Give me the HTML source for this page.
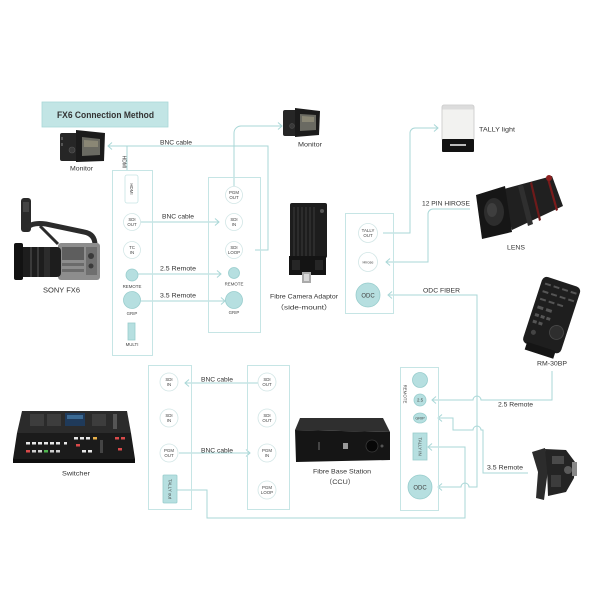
<!DOCTYPE html>
<html><head><meta charset="utf-8">
<style>
html,body{margin:0;padding:0;background:#fff;}
svg{display:block;}
text{font-family:"Liberation Sans","Noto Sans CJK SC",sans-serif;fill:#333;}
.c{font-size:4.4px;text-anchor:middle;fill:#444;}
.l{font-size:6.6px;}
.ln{fill:none;stroke:#a9d7d7;stroke-width:1;}
.pn{fill:none;stroke:#c6e5e5;stroke-width:1;}
.ci{fill:#fff;stroke:#d2e6e6;stroke-width:0.8;}
.cf{fill:#b6dfe0;stroke:#98cdcd;stroke-width:0.8;}
</style></head><body>
<svg width="600" height="600" viewBox="0 0 600 600" xmlns="http://www.w3.org/2000/svg">
<rect width="600" height="600" fill="#fff"/>

<!-- Title -->
<rect x="42" y="102" width="126" height="25" fill="#c2e5e5" stroke="#a9d8d8" stroke-width="0.8"/>
<text x="57" y="118" font-size="9.5" font-weight="bold" textLength="97" lengthAdjust="spacingAndGlyphs" fill="#2a2a2a">FX6 Connection Method</text>

<!-- ===== Connector lines ===== -->
<path class="ln" d="M255 250 H268 V146 H108"/>
<polyline class="ln" points="112,142.5 108,146 112,149.5"/>
<path class="ln" d="M127 146 V170"/>
<path class="ln" d="M234 186 V133 A7 7 0 0 1 241 126 H282"/>
<polyline class="ln" points="278,122.5 282,126 278,129.5"/>
<path class="ln" d="M141 222 H219"/>
<polyline class="ln" points="215,218.5 219,222 215,225.5"/>
<path class="ln" d="M138 274 H221"/>
<polyline class="ln" points="217,270.5 221,274 217,277.5"/>
<path class="ln" d="M141 301 H225"/>
<polyline class="ln" points="221,297.5 225,301 221,304.5"/>

<path class="ln" d="M383 233 H410 V133 A5 5 0 0 1 415 128 H438"/>
<polyline class="ln" points="434,124.5 438,128 434,131.5"/>
<path class="ln" d="M386 262 H428 V214 A5 5 0 0 1 433 209 H470"/>
<polyline class="ln" points="390,258.5 386,262 390,265.5"/>
<path class="ln" d="M388 295 H477 V487 H469 A4 4 0 0 0 461 487 H438"/>
<polyline class="ln" points="392,291.5 388,295 392,298.5"/>
<polyline class="ln" points="442,483.5 438,487 442,490.5"/>
<path class="ln" d="M552 371 V400 H481 A4 4 0 0 0 473 400 H432"/>
<polyline class="ln" points="436,396.5 432,400 436,403.5"/>
<path class="ln" d="M438 418 H453 V430 H473 A4 4 0 0 1 481 430 H483 V473 H528"/>
<polyline class="ln" points="442,414.5 438,418 442,421.5"/>
<path class="ln" d="M428 447 H465 V518 H207 V490 H177"/>
<polyline class="ln" points="432,443.5 428,447 432,450.5"/>
<path class="ln" d="M258 383 H185"/>
<polyline class="ln" points="189,379.5 185,383 189,386.5"/>
<path class="ln" d="M179 453 H250"/>
<polyline class="ln" points="246,449.5 250,453 246,456.5"/>

<!-- ===== Panels ===== -->
<rect class="pn" x="112.5" y="170.5" width="40" height="185"/>
<rect x="125" y="175" width="13" height="28" rx="2" fill="#fff" stroke="#c6e5e5" stroke-width="0.8"/>
<text class="c" transform="translate(131.5,189) rotate(90)" dy="1.5">HDMI</text>
<circle class="ci" cx="132" cy="222" r="8.5"/>
<text class="c" x="132" y="221">SDI</text><text class="c" x="132" y="226">OUT</text>
<circle class="ci" cx="132" cy="250" r="8.5"/>
<text class="c" x="132" y="249">TC</text><text class="c" x="132" y="254">IN</text>
<circle class="cf" cx="132" cy="275" r="6"/>
<text class="c" x="132" y="288">REMOTE</text>
<circle class="cf" cx="132" cy="300" r="8.5"/>
<text class="c" x="132" y="315">GRIP</text>
<rect class="cf" x="128" y="323" width="7" height="17"/>
<text class="c" x="132" y="346">MULTI</text>
<text class="c" transform="translate(124,162) rotate(90)" dy="1.5" style="font-size:5px">HDMI</text>

<rect class="pn" x="208.5" y="177.5" width="52" height="155"/>
<circle class="ci" cx="234" cy="195" r="8.5"/>
<text class="c" x="234" y="194">PGM</text><text class="c" x="234" y="199">OUT</text>
<circle class="ci" cx="234" cy="222" r="8.5"/>
<text class="c" x="234" y="221">SDI</text><text class="c" x="234" y="226">IN</text>
<circle class="ci" cx="234" cy="250" r="8.5"/>
<text class="c" x="234" y="249">SDI</text><text class="c" x="234" y="254">LOOP</text>
<circle class="cf" cx="234" cy="273" r="5.5"/>
<text class="c" x="234" y="285.5">REMOTE</text>
<circle class="cf" cx="234" cy="300" r="8.5"/>
<text class="c" x="234" y="314">GRIP</text>

<rect class="pn" x="345.5" y="213.5" width="48" height="100"/>
<circle class="ci" cx="368" cy="233" r="9.5"/>
<text class="c" x="368" y="232">TALLY</text><text class="c" x="368" y="237">OUT</text>
<circle class="ci" cx="368" cy="262" r="9.5"/>
<text class="c" x="368" y="263.5" style="font-size:3.8px">Hirose</text>
<circle class="cf" cx="368" cy="295" r="12"/>
<text class="c" x="368" y="297.5" style="font-size:6px">ODC</text>

<rect class="pn" x="400.5" y="367.5" width="38" height="143"/>
<circle class="cf" cx="420" cy="380" r="7.5"/>
<text class="c" transform="translate(405,394) rotate(90)" dy="1.5">REMOTE</text>
<circle class="cf" cx="420" cy="400" r="6"/>
<text class="c" x="420" y="401.5">2.5</text>
<ellipse class="cf" cx="420" cy="418" rx="6.5" ry="5"/>
<text class="c" x="420" y="419.5" style="font-size:3.8px">GRIP</text>
<rect class="cf" x="413" y="433" width="14" height="27"/>
<text class="c" transform="translate(420,446.5) rotate(90)" dy="1.5">TALLY IN</text>
<circle class="cf" cx="420" cy="487" r="12"/>
<text class="c" x="420" y="489.5" style="font-size:6px">ODC</text>

<rect class="pn" x="148.5" y="365.5" width="43" height="144"/>
<circle class="ci" cx="169" cy="382" r="9"/>
<text class="c" x="169" y="381">SDI</text><text class="c" x="169" y="386">IN</text>
<circle class="ci" cx="169" cy="418" r="9"/>
<text class="c" x="169" y="417">SDI</text><text class="c" x="169" y="422">IN</text>
<circle class="ci" cx="169" cy="453" r="9"/>
<text class="c" x="169" y="452">PGM</text><text class="c" x="169" y="457">OUT</text>
<rect class="cf" x="163" y="475" width="14" height="28" rx="1"/>
<text class="c" transform="translate(170,489) rotate(90)" dy="1.5">TALLY out</text>

<rect class="pn" x="247.5" y="365.5" width="42" height="144"/>
<circle class="ci" cx="267" cy="382" r="9"/>
<text class="c" x="267" y="381">SDI</text><text class="c" x="267" y="386">OUT</text>
<circle class="ci" cx="267" cy="418" r="9"/>
<text class="c" x="267" y="417">SDI</text><text class="c" x="267" y="422">OUT</text>
<circle class="ci" cx="267" cy="453" r="9"/>
<text class="c" x="267" y="452">PGM</text><text class="c" x="267" y="457">IN</text>
<circle class="ci" cx="267" cy="490" r="9"/>
<text class="c" x="267" y="489">PGM</text><text class="c" x="267" y="494">LOOP</text>

<!-- ===== Labels ===== -->
<text class="l" x="70" y="170.3" textLength="23" lengthAdjust="spacingAndGlyphs">Monitor</text>
<text class="l" x="160" y="144.3" textLength="32" lengthAdjust="spacingAndGlyphs">BNC cable</text>
<text class="l" x="298" y="146.3" textLength="24" lengthAdjust="spacingAndGlyphs">Monitor</text>
<text class="l" x="43" y="292.5" textLength="37" lengthAdjust="spacingAndGlyphs" style="font-size:7px">SONY FX6</text>
<text class="l" x="162" y="218.3" textLength="32" lengthAdjust="spacingAndGlyphs">BNC cable</text>
<text class="l" x="160" y="270.3" textLength="36" lengthAdjust="spacingAndGlyphs">2.5 Remote</text>
<text class="l" x="160" y="297.3" textLength="36" lengthAdjust="spacingAndGlyphs">3.5 Remote</text>
<text class="l" x="270" y="298.3" textLength="68" lengthAdjust="spacingAndGlyphs">Fibre Camera Adaptor</text>
<text class="l" x="276" y="309.3" textLength="56" lengthAdjust="spacingAndGlyphs">（side-mount）</text>
<text class="l" x="479" y="131.3" textLength="36" lengthAdjust="spacingAndGlyphs">TALLY light</text>
<text class="l" x="422" y="205.3" textLength="48" lengthAdjust="spacingAndGlyphs">12 PIN HIROSE</text>
<text class="l" x="507" y="249.3" textLength="18" lengthAdjust="spacingAndGlyphs">LENS</text>
<text class="l" x="423" y="292.3" textLength="37" lengthAdjust="spacingAndGlyphs">ODC FIBER</text>
<text class="l" x="537" y="365.3" textLength="30" lengthAdjust="spacingAndGlyphs">RM-30BP</text>
<text class="l" x="498" y="406.3" textLength="35" lengthAdjust="spacingAndGlyphs">2.5 Remote</text>
<text class="l" x="487" y="469.3" textLength="36" lengthAdjust="spacingAndGlyphs">3.5 Remote</text>
<text class="l" x="62" y="475.3" textLength="28" lengthAdjust="spacingAndGlyphs">Switcher</text>
<text class="l" x="313" y="473.3" textLength="58" lengthAdjust="spacingAndGlyphs">Fibre Base Station</text>
<text class="l" x="325" y="484" textLength="30" lengthAdjust="spacingAndGlyphs">（CCU）</text>
<text class="l" x="201" y="381.3" textLength="32" lengthAdjust="spacingAndGlyphs">BNC cable</text>
<text class="l" x="201" y="452.3" textLength="32" lengthAdjust="spacingAndGlyphs">BNC cable</text>

<!-- ===== Devices ===== -->
<g>
<rect x="60" y="133" width="20" height="28" rx="2" fill="#262626"/>
<polygon points="76,130 105,133 104,161 76,162" fill="#1b1b1b"/>
<polygon points="82,137 100,139 100,155 82,156" fill="#6a6a62"/>
<polygon points="84,140 98,141 98,147 84,147" fill="#8a8775"/>
<circle cx="72" cy="150" r="3" fill="#3a3a3a" stroke="#555" stroke-width="0.6"/>
<rect x="61" y="137" width="2" height="3" fill="#555"/><rect x="61" y="143" width="2" height="3" fill="#555"/>
</g>
<g>
<rect x="283" y="110" width="16" height="26" rx="2" fill="#262626"/>
<polygon points="295,108 320,111 319,135 295,137" fill="#1b1b1b"/>
<polygon points="300,114 316,115 316,130 300,131" fill="#6a6a62"/>
<polygon points="302,116 314,117 314,122 302,122" fill="#8a8775"/>
<circle cx="292" cy="126" r="2.5" fill="#3a3a3a" stroke="#555" stroke-width="0.5"/>
</g>

<g>
<rect x="21" y="198" width="10" height="34" rx="3" fill="#2a2a2a"/>
<rect x="23" y="202" width="6" height="10" fill="#444"/>
<path d="M27 228 Q32 222 46 224 L84 232 Q95 234 95 245" stroke="#2b2b2b" stroke-width="5" fill="none"/>
<path d="M40 226 L58 244" stroke="#2b2b2b" stroke-width="3" fill="none"/>
<rect x="58" y="243" width="42" height="37" rx="3" fill="#8d8d8d"/>
<rect x="62" y="247" width="22" height="13" fill="#5e5e5e"/>
<rect x="86" y="247" width="11" height="28" fill="#6f6f6f"/>
<circle cx="91" cy="256" r="3" fill="#3a3a3a"/>
<circle cx="91" cy="266" r="2.5" fill="#3a3a3a"/>
<rect x="62" y="263" width="22" height="3" fill="#6b6b6b"/>
<rect x="62" y="269" width="22" height="3" fill="#6b6b6b"/>
<rect x="17" y="247" width="44" height="30" rx="4" fill="#1d1d1d"/>
<rect x="30" y="247" width="2" height="30" fill="#3a3a3a"/>
<rect x="37" y="247" width="2" height="30" fill="#3a3a3a"/>
<rect x="44" y="247" width="6" height="30" fill="#2c2c2c"/>
<rect x="14" y="243" width="9" height="37" rx="2" fill="#121212"/>
</g>

<g>
<rect x="290" y="203" width="37" height="55" rx="2" fill="#1d1d1d"/>
<g stroke="#3a3a3a" stroke-width="1">
<line x1="294" y1="207" x2="294" y2="256"/><line x1="298" y1="207" x2="298" y2="256"/>
<line x1="302" y1="207" x2="302" y2="256"/><line x1="306" y1="207" x2="306" y2="256"/>
<line x1="310" y1="207" x2="310" y2="256"/><line x1="314" y1="207" x2="314" y2="256"/>
</g>
<circle cx="322" cy="211" r="2" fill="#555"/>
<rect x="289" y="256" width="37" height="19" fill="#141414"/>
<rect x="292" y="260" width="8" height="10" fill="#262626"/>
<rect x="315" y="260" width="8" height="10" fill="#262626"/>
<rect x="302" y="272" width="9" height="11" fill="#aaa"/>
<rect x="304" y="274" width="5" height="7" fill="#d8d8d8"/>
</g>

<g>
<rect x="442" y="105" width="32" height="36" rx="2" fill="#f2f2f0" stroke="#c8c8c8" stroke-width="0.8"/>
<rect x="442.5" y="105.5" width="31" height="4" fill="#dcdcdc"/>
<rect x="442" y="139" width="32" height="13" rx="1" fill="#121212"/>
<rect x="450" y="144" width="16" height="2" fill="#bbb"/>
</g>

<g>
<polygon points="500,190 552,176 563,206 512,230" fill="#202020"/>
<polygon points="518,186 523,185 533,224 528,226" fill="#2f2f2f"/>
<polygon points="530,183 532,182 541,220 539,221" fill="#6e1a1a"/>
<polygon points="547,179 549,178 558,210 556,211" fill="#7a1b1b"/>
<circle cx="549" cy="178" r="3" fill="#8c2020"/>
<polygon points="476,195 505,186 512,232 482,239" fill="#161616"/>
<ellipse cx="494" cy="212" rx="10" ry="14" fill="#2d2d2d"/>
<ellipse cx="492" cy="210" rx="5" ry="7" fill="#3e3e3e"/>
</g>

<g transform="rotate(18,551,317)">
<rect x="531" y="280" width="40" height="70" rx="5" fill="#1e1e1e"/>
<g fill="#555">
<rect x="535" y="286" width="6" height="2"/><rect x="544" y="286" width="6" height="2"/><rect x="553" y="286" width="6" height="2"/><rect x="562" y="286" width="6" height="2"/>
<rect x="535" y="294" width="6" height="2"/><rect x="544" y="294" width="6" height="2"/><rect x="553" y="294" width="6" height="2"/><rect x="562" y="294" width="6" height="2"/>
<rect x="535" y="302" width="6" height="2"/><rect x="544" y="302" width="6" height="2"/><rect x="553" y="302" width="6" height="2"/>
<rect x="535" y="310" width="6" height="3"/><rect x="544" y="310" width="6" height="3"/>
<rect x="535" y="318" width="4" height="3"/><rect x="541" y="318" width="4" height="3"/><rect x="547" y="318" width="4" height="3"/>
<rect x="535" y="325" width="4" height="3"/><rect x="541" y="325" width="4" height="3"/>
</g>
<circle cx="561" cy="330" r="7" fill="#2e2e2e" stroke="#4a4a4a" stroke-width="0.8"/>
<circle cx="539" cy="337" r="2.5" fill="#444"/>
<rect x="536" y="348" width="30" height="8" fill="#151515"/>
</g>

<g>
<path d="M532 452 L545 448 L548 470 L544 500 L536 498 L538 472 Z" fill="#2c2c2c"/>
<path d="M545 449 L566 450 L575 462 L574 478 L566 492 L548 496 L547 470 Z" fill="#242424"/>
<rect x="552" y="456" width="12" height="8" fill="#4a4a4a"/>
<circle cx="568" cy="470" r="4" fill="#5a5a5a"/>
<rect x="572" y="462" width="5" height="14" fill="#888"/>
<rect x="551" y="475" width="10" height="12" fill="#3c3c3c"/>
</g>

<g>
<polygon points="22,411 127,411 131,433 17,433" fill="#2b2b2b"/>
<g fill="#3d3d3d">
<rect x="30" y="414" width="14" height="12"/><rect x="47" y="414" width="14" height="12"/>
<rect x="92" y="414" width="14" height="12"/>
</g>
<rect x="65" y="413" width="20" height="13" fill="#1f3a5a"/>
<rect x="67" y="415" width="16" height="4" fill="#3b6a94"/>
<rect x="113" y="414" width="4" height="15" fill="#555"/>
<polygon points="17,433 131,433 135,459 13,459" fill="#1b1b1b"/>
<g fill="#e8e8e8">
<rect x="26" y="442" width="4" height="2.5"/><rect x="32" y="442" width="4" height="2.5"/><rect x="38" y="442" width="4" height="2.5"/><rect x="44" y="442" width="4" height="2.5"/><rect x="50" y="442" width="4" height="2.5"/><rect x="56" y="442" width="4" height="2.5"/>
<rect x="74" y="437" width="4" height="2.5"/><rect x="80" y="437" width="4" height="2.5"/><rect x="86" y="437" width="4" height="2.5"/>
<rect x="82" y="450" width="4" height="2.5"/><rect x="88" y="450" width="4" height="2.5"/>
<rect x="64" y="442" width="3" height="2.5"/>
</g>
<g fill="#d94a4a">
<rect x="26" y="450" width="4" height="2.5"/><rect x="115" y="437" width="4" height="2.5"/><rect x="121" y="437" width="4" height="2.5"/><rect x="118" y="448" width="4" height="2.5"/>
<rect x="76" y="444" width="4" height="2.5"/>
</g>
<g fill="#cfcfcf">
<rect x="32" y="450" width="4" height="2.5"/><rect x="38" y="450" width="4" height="2.5"/><rect x="50" y="450" width="4" height="2.5"/><rect x="56" y="450" width="4" height="2.5"/>
</g>
<rect x="44" y="450" width="4" height="2.5" fill="#4fb44f"/>
<rect x="93" y="437" width="4" height="2.5" fill="#e8b04a"/>
<rect x="100" y="440" width="3" height="13" fill="#444"/>
<rect x="13" y="459" width="122" height="4" fill="#0e0e0e"/>
</g>

<g>
<polygon points="300,418 383,418 390,432 295,430" fill="#2f2f2f"/>
<polygon points="295,430 390,432 390,460 296,462" fill="#151515"/>
<rect x="343" y="443" width="5" height="6" fill="#9a9a9a"/>
<rect x="318" y="442" width="2" height="8" fill="#444"/>
<circle cx="372" cy="446" r="6" fill="#070707" stroke="#3a3a3a" stroke-width="0.8"/>
<circle cx="382" cy="446" r="1.5" fill="#555"/>
</g>

</svg>
</body></html>
